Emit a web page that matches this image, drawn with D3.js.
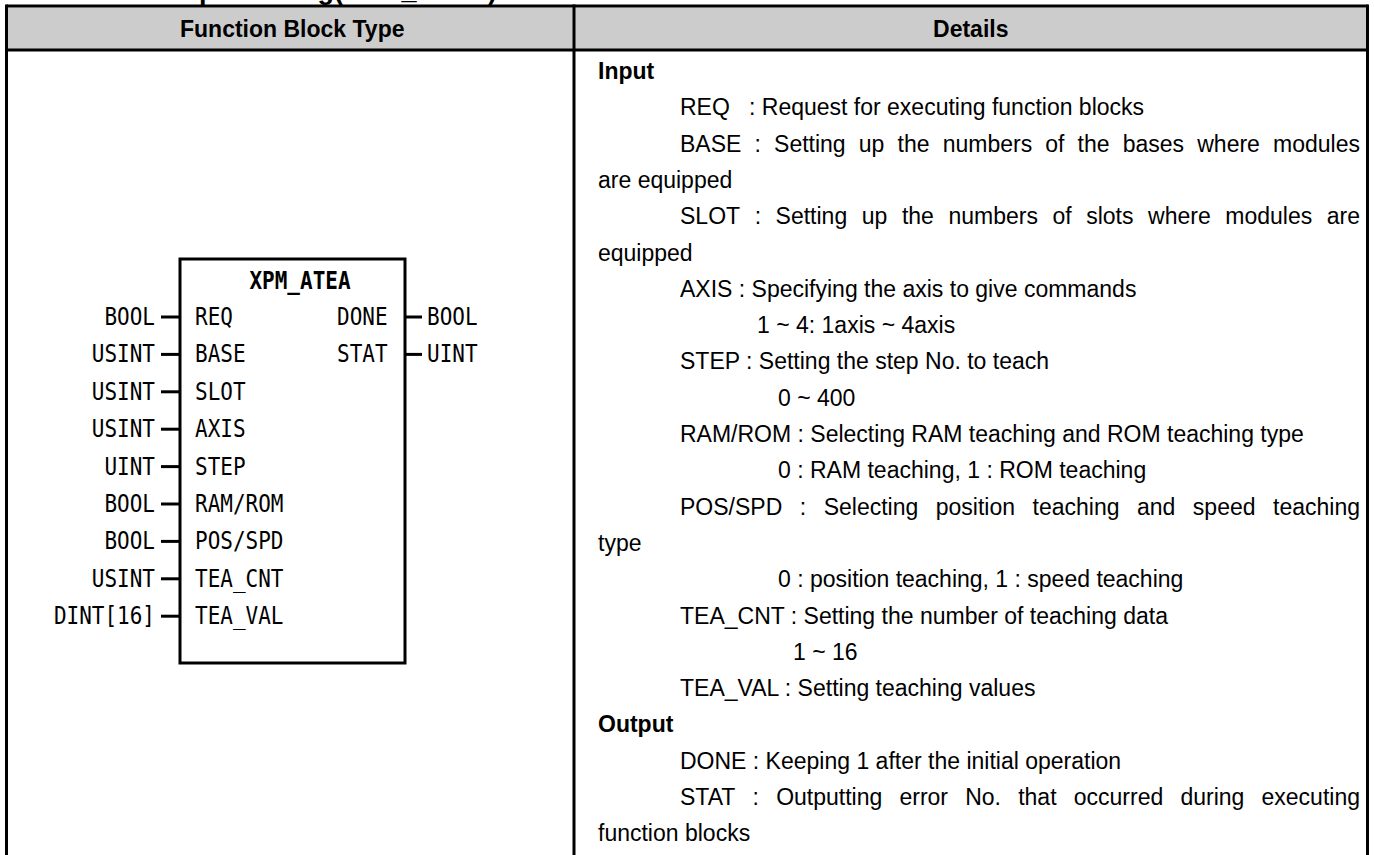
<!DOCTYPE html>
<html><head><meta charset="utf-8">
<script src="https://cdn.jsdelivr.net/npm/d3@7"></script>
<style>html,body{margin:0;padding:0;background:#fff;overflow:hidden}</style>
</head><body>
<svg id="c" width="1374" height="855"></svg>
<script>
// ---- data ----
const titleText = "Multi-step teaching(XPM_ATEA)";
const headers = ["Function Block Type", "Details"];
const blockName = "XPM_ATEA";
const inputTypes = ["BOOL","USINT","USINT","USINT","UINT","BOOL","BOOL","USINT","DINT[16]"];
const inputNames = ["REQ","BASE","SLOT","AXIS","STEP","RAM/ROM","POS/SPD","TEA_CNT","TEA_VAL"];
const outputNames = ["DONE","STAT"];
const outputTypes = ["BOOL","UINT"];
const detailText = [
  "Input",
  "REQ   : Request for executing function blocks",
  "BASE : Setting up the numbers of the bases where modules",
  "are equipped",
  "SLOT : Setting up the numbers of slots where modules are",
  "equipped",
  "AXIS : Specifying the axis to give commands",
  "1 ~ 4: 1axis ~ 4axis",
  "STEP : Setting the step No. to teach",
  "0 ~ 400",
  "RAM/ROM : Selecting RAM teaching and ROM teaching type",
  "0 : RAM teaching, 1 : ROM teaching",
  "POS/SPD : Selecting position teaching and speed teaching",
  "type",
  "0 : position teaching, 1 : speed teaching",
  "TEA_CNT : Setting the number of teaching data",
  "1 ~ 16",
  "TEA_VAL : Setting teaching values",
  "Output",
  "DONE : Keeping 1 after the initial operation",
  "STAT : Outputting error No. that occurred during executing",
  "function blocks"
];
// level: h = heading, w = wrapped line, p = parameter, v1/v2/v3 = value lines
const detailLevel = ["h","p","p","w","p","w","p","v1","p","v2","p","v2","p","w","v2","p","v3","p","h","p","p","w"];
const detailJustify = [0,0,1,0,1,0,0,0,0,0,0,0,1,0,0,0,0,0,0,0,1,0];

// ---- layout ----
const svg = d3.select("#c");
const W = 1374, H = 855;
const L = 6.5, R = 1367.5, T = 7.5, HB = 50, DIV = 574;
const sans = "'Liberation Sans', Arial, sans-serif";
const mono = "'DejaVu Sans Mono', monospace";

// title (cut off at top, as in the source page)
svg.append("text").attr("x", 497).attr("y", -1).attr("text-anchor","end")
  .attr("font-family", sans).attr("font-weight","bold").attr("font-size", 27)
  .text(titleText);

// header
svg.append("rect").attr("x", L).attr("y", T).attr("width", R-L).attr("height", HB-T).attr("fill","#cccccc");
const colX = d3.scaleOrdinal().domain(headers).range([(L+DIV)/2 + 2, (DIV+R)/2]);
svg.selectAll("text.hdr").data(headers).join("text").attr("class","hdr")
  .attr("x", d => colX(d)).attr("y", 37).attr("text-anchor","middle")
  .attr("font-family", sans).attr("font-weight","bold").attr("font-size", 23).text(d => d);

// table lines
const lines = [
  [L, T-1.5, R, T-1.5], [L, HB, R, HB],
  [L, T-3, L, H+5], [R, T-3, R, H+5], [DIV, T-3, DIV, H+5]
];
svg.selectAll("line.tbl").data(lines).join("line").attr("class","tbl")
  .attr("x1", d=>d[0]).attr("y1", d=>d[1]).attr("x2", d=>d[2]).attr("y2", d=>d[3])
  .attr("stroke","#000").attr("stroke-width",3);

// ---- function block diagram ----
const boxL = 180, boxR = 405, boxT = 259, boxB = 663;
svg.append("rect").attr("x", boxL).attr("y", boxT).attr("width", boxR-boxL).attr("height", boxB-boxT)
  .attr("fill","none").attr("stroke","#000").attr("stroke-width",3);
const sx = 0.875, monoSize = 24;
svg.append("text").attr("transform", `translate(300,289) scale(${sx},1)`)
  .attr("text-anchor","middle").attr("font-family", mono).attr("font-weight","bold")
  .attr("font-size", monoSize).text(blockName);

const rowY = d3.scaleLinear().domain([0, inputNames.length-1]).range([325, 325 + 8*37.4]);
const gIn = svg.selectAll("g.in").data(inputNames).join("g").attr("class","in");
gIn.append("text").attr("transform", (d,i) => `translate(155,${rowY(i)}) scale(${sx},1)`)
  .attr("text-anchor","end").attr("font-family", mono).attr("font-size", monoSize)
  .text((d,i) => inputTypes[i]);
gIn.append("line").attr("x1",161).attr("x2",boxL).attr("y1",(d,i)=>rowY(i)-8).attr("y2",(d,i)=>rowY(i)-8)
  .attr("stroke","#000").attr("stroke-width",3);
gIn.append("text").attr("transform", (d,i) => `translate(195,${rowY(i)}) scale(${sx},1)`)
  .attr("font-family", mono).attr("font-size", monoSize).text(d => d);

const gOut = svg.selectAll("g.out").data(outputNames).join("g").attr("class","out");
gOut.append("text").attr("transform", (d,i) => `translate(337,${rowY(i)}) scale(${sx},1)`)
  .attr("font-family", mono).attr("font-size", monoSize).text(d => d);
gOut.append("line").attr("x1",boxR).attr("x2",422).attr("y1",(d,i)=>rowY(i)-8).attr("y2",(d,i)=>rowY(i)-8)
  .attr("stroke","#000").attr("stroke-width",3);
gOut.append("text").attr("transform", (d,i) => `translate(427,${rowY(i)}) scale(${sx},1)`)
  .attr("font-family", mono).attr("font-size", monoSize).text((d,i) => outputTypes[i]);

// ---- details text ----
const lineY = d3.scaleLinear().domain([0, detailText.length-1]).range([79, 79 + 21*36.3]);
const levelX = d3.scaleOrdinal().domain(["h","w","p","v1","v2","v3"]).range([598, 598, 680, 757, 778, 793]);
const bodySize = 23, textRight = 1360;

function measure(str, bold) {
  const t = svg.append("text").attr("font-family", sans).attr("font-size", bodySize)
    .attr("font-weight", bold ? "bold" : "normal").style("white-space","pre").text(str);
  const w = t.node().getComputedTextLength();
  t.remove();
  return w;
}

detailText.forEach((str, i) => {
  const bold = detailLevel[i] === "h";
  const x0 = levelX(detailLevel[i]);
  const y = lineY(i);
  const t = svg.append("text").attr("y", y).attr("font-family", sans).attr("font-size", bodySize)
    .attr("font-weight", bold ? "bold" : "normal").style("white-space","pre");
  if (detailJustify[i]) {
    const words = str.split(" ");
    const ws = words.map(w => measure(w, bold));
    const total = d3.sum(ws);
    const gap = (textRight - x0 - total) / (words.length - 1);
    let x = x0;
    words.forEach((w, k) => {
      t.append("tspan").attr("x", x).attr("y", y).text(w);
      x += ws[k] + gap;
    });
  } else {
    t.attr("x", x0).text(str);
  }
});
</script>
</body></html>
